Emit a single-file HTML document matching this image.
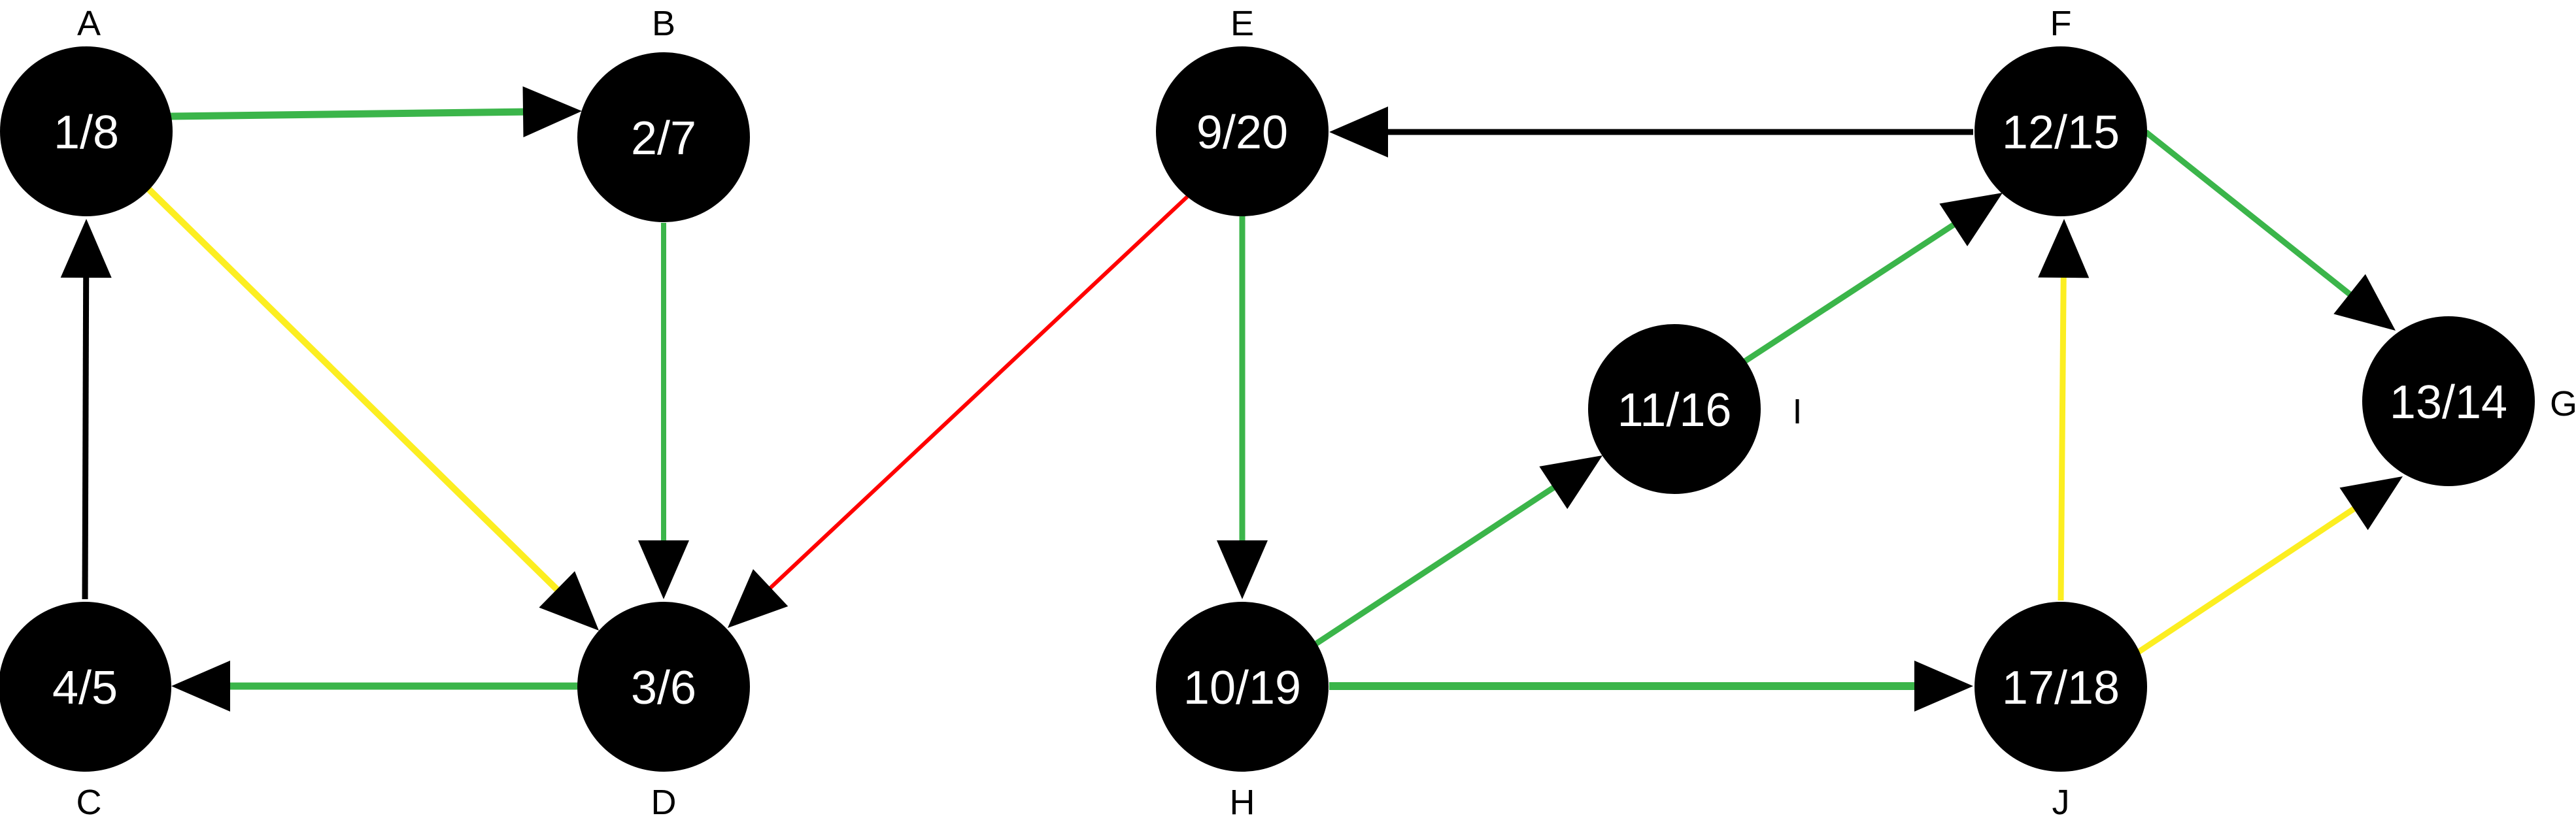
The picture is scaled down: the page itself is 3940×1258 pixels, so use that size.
<!DOCTYPE html>
<html><head><meta charset="utf-8"><style>
html,body{margin:0;padding:0;background:#fff;}
svg{display:block;}
</style></head><body>
<svg id="g" width="3940" height="1258" viewBox="0 0 3940 1258" xmlns="http://www.w3.org/2000/svg"></svg>
<script>
const nodeIds = ["A","B","C","D","E","F","G","H","I","J"];
const nodeTimes = ["1/8","2/7","4/5","3/6","9/20","12/15","13/14","10/19","11/16","17/18"];
const nodeX = [132,1015,130,1015,1900,3152,3745,1900,2561,3152];
const nodeY = [201,210,1051,1051,201,201,614,1051,626,1051];
const labelX = [136,1015,136,1015,1900,3152,3921,1900,2749,3152];
const labelY = [54,54,1246,1246,54,54,636,1246,648,1246];
const edgeFrom = [[260,178],[1015,341],[227,289],[1816,301],[130,917],[885,1050],[3018,202],[1900,331],[2010,987],[2667,554],[3282,202],[3152,919],[3269,999],[2033,1050]];
const edgeTo = [[890,170],[1015,917],[916,965],[1113,961],[132,335],[262,1050],[2033,202],[1900,917],[2451,697],[3063,295],[3664,506],[3157,335],[3675,729],[3018,1050]];
const edgeColor = ["#3bb54a","#3bb54a","#fcee21","#ff0000","#000","#3bb54a","#000","#3bb54a","#3bb54a","#3bb54a","#3bb54a","#fcee21","#fcee21","#3bb54a"];
const edgeWidth = [11,8,10,6,9,11,9,9,9,9,9,9,9,12];
const edgeNames = ["edge-a-b","edge-b-d","edge-a-d","edge-e-d","edge-c-a","edge-d-c","edge-f-e","edge-e-h","edge-h-i","edge-i-f","edge-f-g","edge-j-f","edge-j-g","edge-h-j"];
const NS="http://www.w3.org/2000/svg";
const svg=document.getElementById('g');
function mk(t,a){const e=document.createElementNS(NS,t);for(const k in a)e.setAttribute(k,a[k]);return e;}
const AL=90,AW=39;
for(let i=0;i<edgeFrom.length;i++){
  const [x1,y1]=edgeFrom[i],[x2,y2]=edgeTo[i];
  const dx=x2-x1,dy=y2-y1,L=Math.hypot(dx,dy),ux=dx/L,uy=dy/L;
  const bx=x2-ux*AL,by=y2-uy*AL;
  const grp=mk('g',{});
  
  
  const ln=mk('line',{x1:x1,y1:y1,x2:bx+ux*2,y2:by+uy*2,stroke:edgeColor[i],'stroke-width':edgeWidth[i]});
  
  
  grp.appendChild(ln);
  const ah=mk('polygon',{points:`${x2},${y2} ${bx-uy*AW},${by+ux*AW} ${bx+uy*AW},${by-ux*AW}`,fill:'#000'});
  
  
  grp.appendChild(ah);
  svg.appendChild(grp);
}
for(let i=0;i<nodeIds.length;i++){
  const grp=mk('g',{});
  
  
  const c=mk('ellipse',{cx:nodeX[i],cy:nodeY[i],rx:132,ry:130,fill:'#000'});
  
  
  grp.appendChild(c);
  const t=mk('text',{x:nodeX[i],y:nodeY[i]+26,'text-anchor':'middle','font-family':'"Liberation Sans", sans-serif','font-size':72,fill:'#fff'});
  t.textContent=nodeTimes[i];
  
  
  grp.appendChild(t);
  const l=mk('text',{x:labelX[i],y:labelY[i],'text-anchor':'middle','font-family':'"Liberation Sans", sans-serif','font-size':54,fill:'#000'});
  l.textContent=nodeIds[i];
  
  
  grp.appendChild(l);
  svg.appendChild(grp);
}
</script>
</body></html>
